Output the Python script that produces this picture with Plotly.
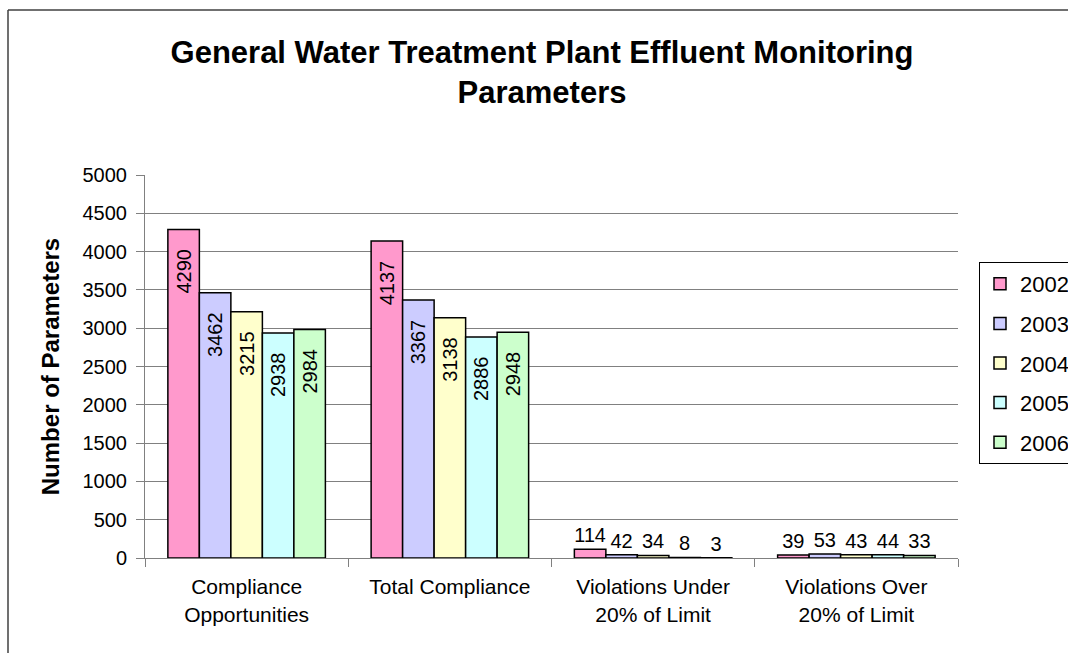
import plotly.graph_objects as go

# Monitoring parameter counts per category and year
categories = [
    "Compliance<br>Opportunities",
    "Total Compliance",
    "Violations Under<br>20% of Limit",
    "Violations Over<br>20% of Limit",
]
years = ["2002", "2003", "2004", "2005", "2006"]
values_2002 = [4290, 4137, 114, 39]
values_2003 = [3462, 3367, 42, 53]
values_2004 = [3215, 3138, 34, 43]
values_2005 = [2938, 2886, 8, 44]
values_2006 = [2984, 2948, 3, 33]
series = [values_2002, values_2003, values_2004, values_2005, values_2006]
colors = ["#FF99CC", "#CCCCFF", "#FFFFCC", "#CCFFFF", "#CCFFCC"]

y_ticks = list(range(0, 5001, 500))
FONT = "Arial, Liberation Sans, sans-serif"
BIG = 1000  # labels above this are written vertically inside the bar
PAD = "\u00a0\u00a0\u00a0"  # keeps vertical labels a little below the bar top

fig = go.Figure()
for year, vals, col in zip(years, series, colors):
    # the bar itself, with vertical labels inside the tall bars
    fig.add_trace(go.Bar(
        name=year, x=categories, y=vals,
        offsetgroup=year, legendgroup=year,
        marker=dict(color=col, line=dict(color="black", width=1.5)),
        text=[str(v) + PAD if v > BIG else "" for v in vals],
        textposition="inside", insidetextanchor="end", textangle=-90,
        insidetextfont=dict(family=FONT, size=20, color="black"),
        hoverinfo="x+y+name",
    ))
    # transparent overlay carrying horizontal labels for the short bars
    fig.add_trace(go.Bar(
        name=year, x=categories, y=vals,
        offsetgroup=year, legendgroup=year, showlegend=False,
        marker=dict(color="rgba(0,0,0,0)", line=dict(width=0)),
        text=[str(v) if v <= BIG else "" for v in vals],
        textposition="outside", textangle=0,
        outsidetextfont=dict(family=FONT, size=20, color="black"),
        cliponaxis=False, hoverinfo="skip",
    ))

L, R, T, B = 145, 110, 175, 95
W, H = 1068, 653
pw, ph = W - L - R, H - T - B

# outer chart frame: only its top and left edges fall inside the page
frame_x0 = (8 - L) / pw
frame_y1 = (H - B - 10) / ph
frame = dict(color="#404040", width=1.5)

fig.update_layout(
    width=W, height=H,
    margin=dict(l=L, r=R, t=T, b=B, autoexpand=False),
    paper_bgcolor="white", plot_bgcolor="white",
    barmode="group", bargap=0.225, bargroupgap=0,
    font=dict(family=FONT, size=20, color="black"),
    title=dict(
        text="<b>General Water Treatment Plant Effluent Monitoring<br>Parameters</b>",
        font=dict(family=FONT, size=31, color="black"),
        x=542 / W, xanchor="center", xref="container",
        y=1 - 63 / H, yanchor="top", yref="container",
    ),
    xaxis=dict(
        showline=True, linecolor="#808080", linewidth=1,
        ticks="outside", tickson="boundaries", ticklen=8, tickcolor="#808080",
        tickfont=dict(family=FONT, size=21, color="black"),
        ticklabelstandoff=10,
        showgrid=False, fixedrange=True,
    ),
    yaxis=dict(
        range=[0, 5000], tickvals=y_ticks,
        showline=True, linecolor="#808080", linewidth=1,
        ticks="outside", ticklen=8, tickcolor="#808080",
        ticklabelstandoff=5,
        showgrid=True, gridcolor="#808080", gridwidth=1,
        tickfont=dict(family=FONT, size=20, color="black"),
        title=dict(text="<b>Number of Parameters</b>",
                   font=dict(family=FONT, size=24, color="black"),
                   standoff=16),
        zeroline=False, fixedrange=True,
    ),
    legend=dict(
        x=(979 - L) / pw, xanchor="left",
        y=(H - B - 262) / ph, yanchor="top",
        bgcolor="white", bordercolor="black", borderwidth=1,
        font=dict(family=FONT, size=22, color="black"),
        traceorder="grouped", tracegroupgap=8,
    ),
    showlegend=True,
    shapes=[
        dict(type="line", xref="paper", yref="paper",
             x0=frame_x0, x1=(1300 - L) / pw, y0=frame_y1, y1=frame_y1,
             line=frame, layer="below"),
        dict(type="line", xref="paper", yref="paper",
             x0=frame_x0, x1=frame_x0, y0=-0.6, y1=frame_y1,
             line=frame, layer="below"),
    ],
)

fig.write_html("out.html", config={"displayModeBar": False})
